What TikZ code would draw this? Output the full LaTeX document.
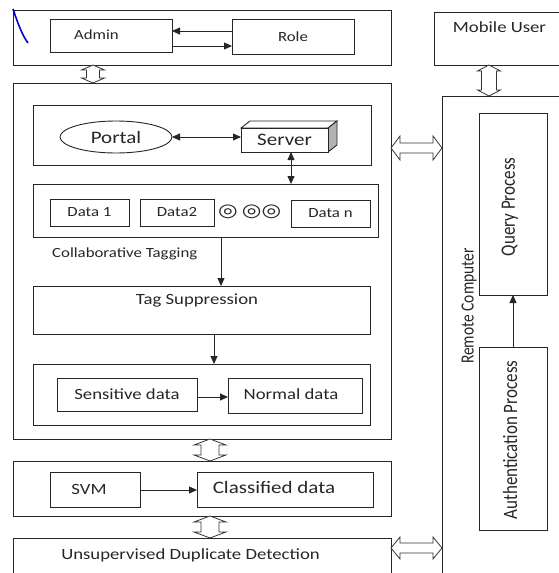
\documentclass[tikz,border=0pt]{standalone}
\usepackage{fontspec}
\setmainfont{Carlito}[FakeStretch=1.2]
\newfontfamily\vfont{Carlito}
\newfontfamily\symfont{DejaVu Sans}[FakeStretch=1.25]
\usetikzlibrary{arrows.meta,shapes.geometric,calc}
\newcommand\bx[7][]{\node[box,minimum width={(#5-#3)*1pt},minimum height={(#6-#4)*1pt},#1] (#2) at ({(#3+#5)/2},{(#4+#6)/2}) {#7};}
\newcommand\vdbl[5]{\draw[hol] let \p1=(#1), \p2=(#2) in (\x1,\y1) -- (\x1+#3pt,\y1-#5pt) -- (\x1+#4pt,\y1-#5pt) -- (\x1+#4pt,\y2+#5pt) -- (\x1+#3pt,\y2+#5pt) -- (\x1,\y2) -- (\x1-#3pt,\y2+#5pt) -- (\x1-#4pt,\y2+#5pt) -- (\x1-#4pt,\y1-#5pt) -- (\x1-#3pt,\y1-#5pt) -- cycle;}
\newcommand\hdbl[5]{\draw[hol] let \p1=(#1), \p2=(#2) in (\x1,\y1) -- (\x1+#5pt,\y1+#3pt) -- (\x1+#5pt,\y1+#4pt) -- (\x2-#5pt,\y1+#4pt) -- (\x2-#5pt,\y1+#3pt) -- (\x2,\y1) -- (\x2-#5pt,\y1-#3pt) -- (\x2-#5pt,\y1-#4pt) -- (\x1+#5pt,\y1-#4pt) -- (\x1+#5pt,\y1-#3pt) -- cycle;}
\begin{document}
\begin{tikzpicture}[x=1pt,y=-1pt,
 box/.style={draw=black!85,line width=0.9pt,inner sep=0pt,outer sep=0pt,text=black!85},
 txt/.style={inner sep=0pt,text=black!85},
 vtxt/.style={inner sep=0pt,text=black!85,rotate=90,yscale=1.2,transform shape},
 fs/.style={font=\fontsize{14}{16}\selectfont},
 fm/.style={font=\fontsize{15.6}{18}\selectfont},
 fl/.style={font=\fontsize{17.5}{20}\selectfont},
 arr/.style={line width=0.8pt,draw=black!85,-{Triangle[length=8pt,width=7pt]}},
 darr/.style={line width=0.8pt,draw=black!85,{Triangle[length=8pt,width=7pt]}-{Triangle[length=8pt,width=7pt]}},
 hol/.style={draw=black!80,line width=0.8pt,fill=white,line join=miter}]
\useasboundingbox (0,0) rectangle (559,573);
\clip (0,0) rectangle (559,573);

% top admin/role area
\bx{top}{13}{10}{391}{65}{}
\bx{admin}{50}{19}{172}{52}{}
\bx[fs]{role}{232}{19}{354}{54}{Role}
\node[txt,fs] (admint) at (96.5,35) {Admin};
\draw[arr] (role.west |- 0,31) -- (admin.east |- 0,31);
\draw[arr] (admin.east |- 0,46) -- (role.west |- 0,46);
\draw[blue!80!black,line width=1.6pt] (13,9) .. controls (17,21) and (22,35) .. (28,43);

% mobile user / remote computer
\bx{mobile}{434}{12}{590}{65}{}
\node[txt,fm] (mobilet) at (499.5,27) {Mobile User};
\bx{remote}{442}{96}{600}{610}{}
\node[vtxt,font=\vfont\fontsize{15.5}{18}\selectfont] (remotet) at (469,306) {Remote Computer};
\bx{query}{479}{113}{547}{295}{}
\node[vtxt,font=\vfont\fontsize{17}{20}\selectfont] (queryt) at (510,207) {Query Process};
\bx{auth}{479}{347}{547}{530}{}
\node[vtxt,font=\vfont\fontsize{17}{20}\selectfont] (autht) at (510,440) {Authentication Process};
\draw[arr] (auth.north) -- (query.south);

% main system
\bx{main}{13}{83}{391}{439}{}
\bx{pbox}{33}{105}{371}{165}{}
\node[box,ellipse,minimum width=112pt,minimum height=32pt,fl] (portal) at (116,137) {Portal};
\draw[box,fill=white] (241,128) -- ++(9,-7) -- ++(87,0) -- ++(-9,7) -- cycle;
\draw[box,fill=black!30] (328,128) -- ++(9,-7) -- ++(0,24) -- ++(-9,7) -- cycle;
\bx[fl,fill=white]{server}{241}{128}{328}{152}{Server}
\draw[darr] (portal.east) -- (portal.east -| server.west);

\bx{dbox}{33}{184}{378}{237}{}
\draw[darr] (server.south -| 291,0) -- (dbox.north -| 291,0);
\bx[fs]{d1}{50}{199}{129}{226}{Data 1}
\bx[fs]{d2}{140}{199}{214}{226}{Data2}
\bx[fs]{dn}{291}{200}{370}{227}{Data n}
\node[txt,font=\symfont\fontsize{18}{20}\selectfont] (circ1) at (228,212) {◎};
\node[txt,font=\symfont\fontsize{18}{20}\selectfont] (circ2) at (261.5,212) {◎◎};
\node[txt,fs,anchor=west] (collab) at (52,254) {Collaborative Tagging};

\bx{tagsup}{33}{286}{370}{334}{}
\node[txt,fm] (tagt) at (197,300) {Tag Suppression};
\draw[arr] (dbox.south -| 221,0) -- (tagsup.north -| 221,0);

\bx{sbox}{33}{364}{370}{425}{}
\draw[arr] (tagsup.south -| 214,0) -- (sbox.north -| 214,0);
\bx[fm]{sens}{57}{378}{197}{411}{Sensitive data}
\bx{norm}{228}{378}{362}{413}{}
\node[txt,fm] (normt) at (291,394) {Normal data};
\draw[arr] (sens.east |- 0,397) -- (norm.west |- 0,397);

% classification
\bx{svmbox}{13}{461}{391}{516}{}
\bx{svm}{50}{472}{140}{507}{}
\node[txt,fm] (svmt) at (89,489) {SVM};
\bx{cls}{197}{472}{373}{507}{}
\node[txt,fl] (clst) at (274,487) {Classified data};
\draw[arr] (svm.east |- 0,490) -- (cls.west |- 0,490);

\bx{udd}{13}{538}{391}{620}{}
\node[txt,fm] (uddt) at (190.5,555) {Unsupervised Duplicate Detection};

% hollow double arrows
\vdbl{top.south -| 93,0}{main.north -| 93,0}{11.5}{6.5}{5}
\vdbl{mobile.south -| 489,0}{remote.north -| 489,0}{11.5}{7.5}{6}
\vdbl{main.south -| 210,0}{svmbox.north -| 210,0}{16}{9}{6}
\vdbl{svmbox.south -| 210,0}{udd.north -| 210,0}{16}{9}{6}
\hdbl{main.east |- 0,148}{remote.west |- 0,148}{12}{5}{9}
\hdbl{udd.east |- 0,548}{remote.west |- 0,548}{11}{5}{9}
\end{tikzpicture}
\end{document}
